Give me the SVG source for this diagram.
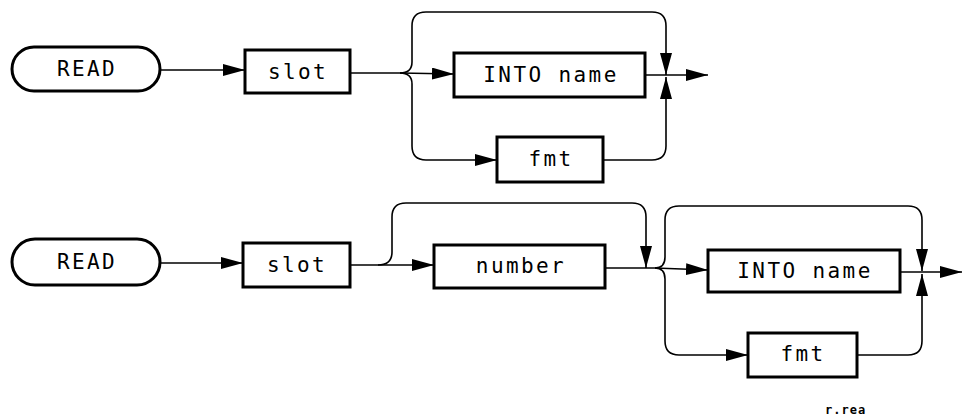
<svg xmlns="http://www.w3.org/2000/svg" width="962" height="419" viewBox="0 0 962 419">
<style>
.box{fill:#fff;stroke:#000;stroke-width:3}
.lbl{font-family:"DejaVu Sans Mono","Liberation Mono",monospace;font-size:21px;letter-spacing:2.4px;text-anchor:middle;dominant-baseline:central;fill:#000}
.c{fill:none;stroke:#000;stroke-width:1.6}
.a{marker-end:url(#ah)}
.note{font-family:"DejaVu Sans Mono","Liberation Mono",monospace;font-size:12px;font-weight:bold;letter-spacing:1px;fill:#000}
</style>
<defs>
<marker id="ah" markerUnits="userSpaceOnUse" markerWidth="22" markerHeight="12" viewBox="0 0 22 12" refX="22" refY="6" orient="auto">
<path d="M0,0 L22,6 L0,12 z" fill="#000"/>
</marker>
</defs>
<rect width="962" height="419" fill="#fff"/>
<g id="connectors">
<path class="c a" d="M160,70 H245"/>
<path class="c" d="M350,73 H400"/>
<path class="c a" d="M400,73 C408,73 412,69 412,62 V26 Q412,12 426,12 H652 Q666,12 666,26 V75"/>
<path class="c a" d="M400,73 L454,74"/>
<path class="c a" d="M400,73 C408,73 412,77 412,84 V146 Q412,160 426,160 H497"/>
<path class="c a" d="M645,75 H708"/>
<path class="c a" d="M603,160 H652 Q666,160 666,146 V77"/>
<path class="c a" d="M160,263 H243"/>
<path class="c a" d="M350,265 H434"/>
<path class="c a" d="M378,265 C388,265 392,260 392,252 V217 Q392,203 406,203 H632 Q646,203 646,217 V268"/>
<path class="c" d="M605,268 H655"/>
<path class="c a" d="M655,268 C662,268 665,264 665,257 V220 Q665,206 679,206 H908 Q922,206 922,220 V271"/>
<path class="c a" d="M655,268 L708,270"/>
<path class="c a" d="M655,268 C662,268 665,272 665,279 V341 Q665,355 679,355 H748"/>
<path class="c a" d="M900,272 H962"/>
<path class="c a" d="M857,355 H908 Q922,355 922,341 V274"/>
</g>
<g id="read1"><rect class="box" x="12" y="47" width="148" height="44" rx="22"/><text class="lbl" x="87" y="69">READ</text></g>
<g id="slot1"><rect class="box" x="245" y="50" width="105" height="43"/><text class="lbl" x="298" y="72">slot</text></g>
<g id="into1"><rect class="box" x="454" y="53" width="191" height="44"/><text class="lbl" x="551" y="75">INTO name</text></g>
<g id="fmt1"><rect class="box" x="497" y="137" width="106" height="45"/><text class="lbl" x="551" y="159">fmt</text></g>
<g id="read2"><rect class="box" x="12" y="239" width="148" height="46" rx="23"/><text class="lbl" x="87" y="262">READ</text></g>
<g id="slot2"><rect class="box" x="243" y="243" width="107" height="44"/><text class="lbl" x="297" y="265">slot</text></g>
<g id="number"><rect class="box" x="434" y="245" width="171" height="43"/><text class="lbl" x="521" y="266">number</text></g>
<g id="into2"><rect class="box" x="708" y="250" width="192" height="42"/><text class="lbl" x="805" y="271">INTO name</text></g>
<g id="fmt2"><rect class="box" x="748" y="333" width="109" height="44"/><text class="lbl" x="803" y="354">fmt</text></g>
<text class="note" x="825" y="414">r.rea</text>
</svg>
